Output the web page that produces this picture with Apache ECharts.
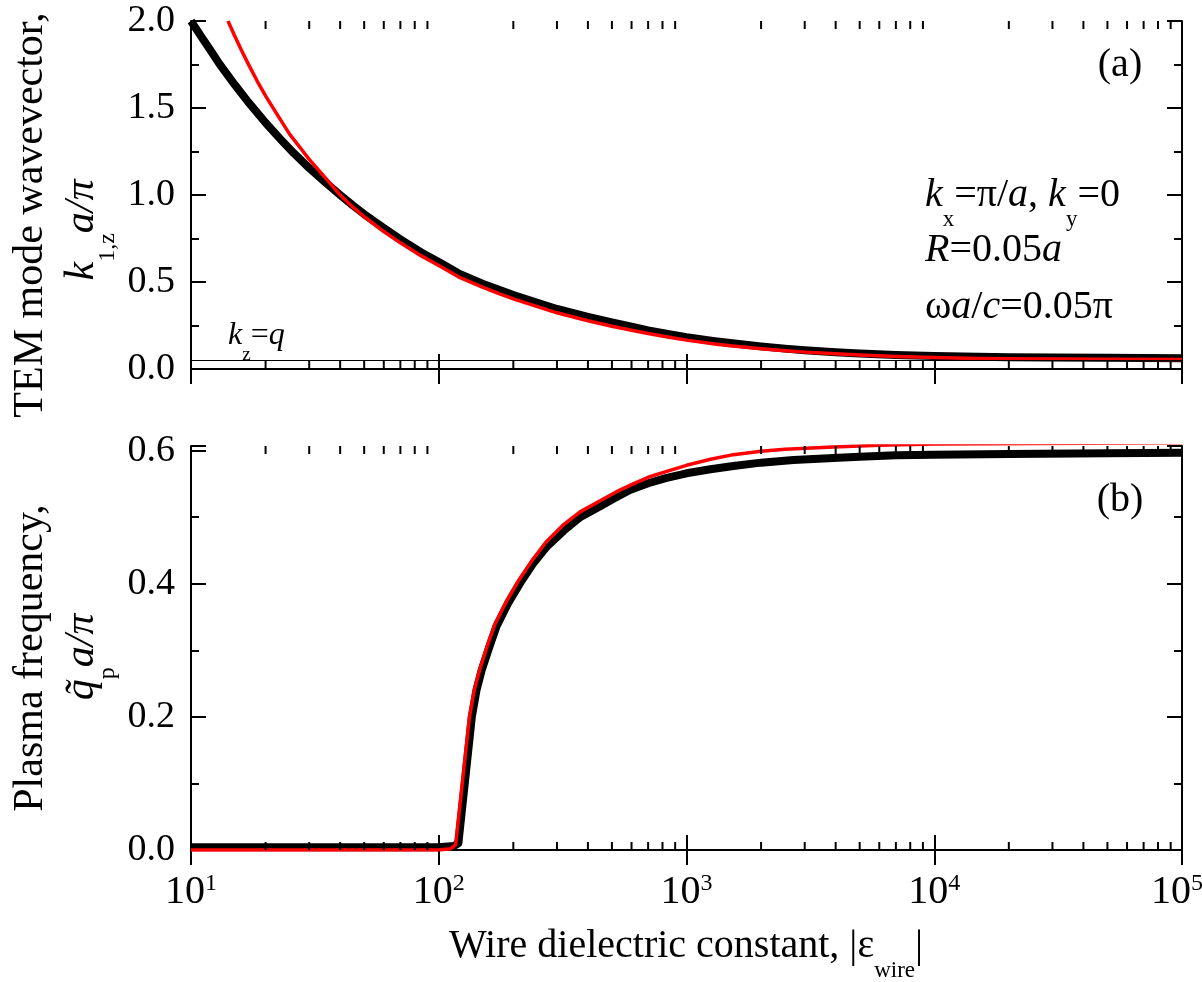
<!DOCTYPE html>
<html>
<head>
<meta charset="utf-8">
<script src="https://cdn.jsdelivr.net/npm/echarts@6/dist/echarts.min.js"></script>
<style>
  html, body { margin: 0; padding: 0; background: #fff; }
  #chart { width: 1202px; height: 982px; }
</style>
</head>
<body>
<div id="chart"></div>
<script>
const FONT = 'Liberation Serif';

// panel (a): TEM mode wavevector k1z*a/pi vs |eps_wire|
const epsA = [10, 11, 12, 13, 15, 17, 20, 23, 26, 30, 35, 40, 45, 50, 60, 70, 85, 100, 120, 150, 175, 200, 250, 300, 400, 500, 600, 700, 850, 1000, 1300, 1500, 2000, 2500, 3000, 4000, 5000, 7000, 10000, 15000, 20000, 30000, 50000, 70000, 100000];
const k1zBlack = [2.00, 1.91, 1.83, 1.755, 1.635, 1.535, 1.415, 1.32, 1.24, 1.155, 1.07, 1.00, 0.94, 0.89, 0.81, 0.745, 0.67, 0.615, 0.55, 0.49, 0.455, 0.425, 0.38, 0.345, 0.30, 0.268, 0.243, 0.222, 0.20, 0.183, 0.16, 0.149, 0.13, 0.117, 0.108, 0.096, 0.089, 0.081, 0.075, 0.070, 0.068, 0.066, 0.064, 0.063, 0.062];
const epsARed = [14.1, 15, 16, 17, 18.5, 20, 22, 25, 28, 30, 35, 40, 45, 50, 60, 70, 85, 100, 120, 150, 175, 200, 250, 300, 400, 500, 600, 700, 850, 1000, 1300, 1500, 2000, 2500, 3000, 4000, 5000, 7000, 10000, 15000, 20000, 30000, 50000, 100000];
const k1zRed = [2.00, 1.915, 1.83, 1.755, 1.655, 1.57, 1.475, 1.35, 1.26, 1.205, 1.095, 1.00, 0.93, 0.875, 0.79, 0.725, 0.65, 0.595, 0.53, 0.47, 0.433, 0.403, 0.358, 0.323, 0.277, 0.246, 0.223, 0.204, 0.183, 0.166, 0.144, 0.134, 0.116, 0.105, 0.097, 0.087, 0.080, 0.072, 0.066, 0.061, 0.059, 0.057, 0.056, 0.055];
const kzq = 0.05;

// panel (b): plasma frequency qp*a/pi vs |eps_wire|
const epsB = [10, 50, 100, 115, 120, 136, 142, 149, 160, 171, 190, 213, 240, 273, 320, 372, 450, 520, 591, 700, 832, 1000, 1250, 1546, 2000, 2700, 3920, 5000, 7000, 9910, 20000, 50000, 100000];
const qpBlack = [0.004, 0.004, 0.004, 0.006, 0.010, 0.20, 0.24, 0.27, 0.305, 0.336, 0.37, 0.401, 0.43, 0.456, 0.48, 0.50, 0.517, 0.53, 0.541, 0.551, 0.559, 0.566, 0.572, 0.577, 0.582, 0.586, 0.589, 0.591, 0.593, 0.594, 0.595, 0.596, 0.597];
const epsBRed = [10, 50, 100, 112, 117, 133, 139, 146, 157, 168, 187, 210, 237, 270, 317, 372, 450, 520, 600, 700, 832, 1000, 1250, 1546, 2000, 2500, 3920, 6000, 10000, 100000];
const qpRed = [0, 0, 0, 0.002, 0.008, 0.20, 0.24, 0.27, 0.307, 0.338, 0.373, 0.405, 0.434, 0.462, 0.488, 0.508, 0.525, 0.538, 0.549, 0.56, 0.569, 0.578, 0.587, 0.594, 0.599, 0.602, 0.6055, 0.608, 0.61, 0.612];

// log-axis minor tick positions
const minorTicks = [20, 30, 40, 50, 60, 70, 80, 90,
  200, 300, 400, 500, 600, 700, 800, 900,
  2000, 3000, 4000, 5000, 6000, 7000, 8000, 9000,
  20000, 30000, 40000, 50000, 60000, 70000, 80000, 90000];

const yRangeA = [0, 2];
const yRangeB = [0, 0.607];

function pairs(xs, ys) { return xs.map((x, i) => [x, ys[i]]); }

const chart = echarts.init(document.getElementById('chart'), null, { renderer: 'canvas' });

const lineBlack = { color: '#000', width: 2 };
const supStyle = { fontFamily: FONT, fontSize: 24, color: '#000', verticalAlign: 'top', lineHeight: 12 };
function xAxisDef(grid, pos, labels) {
  return {
    type: 'log', logBase: 10, gridIndex: grid, position: pos, min: 10, max: 100000,
    axisLine: { show: true, lineStyle: lineBlack },
    axisTick: { show: true, inside: true, length: 15, lineStyle: lineBlack },
    splitLine: { show: false },
    axisLabel: labels ? {
      show: true, margin: 22, color: '#000', fontFamily: FONT, fontSize: 40, lineHeight: 40,
      formatter: v => {
        const e = Math.round(Math.log10(v));
        return '10{' + (e === 5 ? 'supEnd' : 'sup') + '|' + e + '}';
      },
      rich: {
        sup: supStyle,
        supEnd: Object.assign({}, supStyle, { padding: [0, 10, 0, 0] })
      }
    } : { show: false }
  };
}
function yAxisDef(grid, pos, range, interval, labels) {
  return {
    type: 'value', gridIndex: grid, position: pos, min: range[0], max: range[1], interval: interval,
    axisLine: { show: true, lineStyle: lineBlack },
    axisTick: { show: true, inside: true, length: 15, lineStyle: lineBlack },
    minorTick: { show: true, splitNumber: 2, length: 8, lineStyle: lineBlack },
    splitLine: { show: false },
    axisLabel: labels ? {
      show: true, margin: 16, color: '#000', fontFamily: FONT, fontSize: 38,
      showMaxLabel: range[1] === 2,
      formatter: v => v.toFixed(1)
    } : { show: false }
  };
}
function minorTickSeries(xi, yi, range) {
  return {
    type: 'custom', xAxisIndex: xi, yAxisIndex: yi, silent: true, z: 5,
    data: minorTicks.map(v => [v, range[0]]),
    renderItem: function (params, api) {
      const v = api.value(0);
      const b = api.coord([v, range[0]]);
      const t = api.coord([v, range[1]]);
      return {
        type: 'group', children: [
          { type: 'line', shape: { x1: b[0], y1: b[1], x2: b[0], y2: b[1] - 8 }, style: { stroke: '#000', lineWidth: 2 } },
          { type: 'line', shape: { x1: t[0], y1: t[1], x2: t[0], y2: t[1] + 8 }, style: { stroke: '#000', lineWidth: 2 } }
        ]
      };
    }
  };
}

// text with italic {i|..} and low subscripts {sub|..}
function txt(x, y, text, size, opts) {
  opts = opts || {};
  const L = Math.round(size * 1.8);
  const subSize = Math.round(size * 0.58);
  return {
    type: 'text', x: x, y: y, rotation: opts.rot || 0, z: 100,
    style: {
      text: text, fontFamily: FONT, fontSize: size, fill: '#000',
      align: opts.align || 'left', verticalAlign: 'middle', lineHeight: L,
      rich: {
        i: { fontFamily: FONT, fontStyle: 'italic', fontSize: size, fill: '#000', lineHeight: L },
        sub: { fontFamily: FONT, fontSize: subSize, fill: '#000', verticalAlign: 'bottom', lineHeight: Math.round(subSize * 1.15) }
      }
    }
  };
}

chart.setOption({
  animation: false,
  backgroundColor: '#fff',
  grid: [
    { left: 191, top: 21, width: 991, height: 348, outerBoundsMode: 'none' },
    { left: 191, top: 446, width: 991, height: 404, outerBoundsMode: 'none' }
  ],
  xAxis: [
    xAxisDef(0, 'bottom', false),
    xAxisDef(0, 'top', false),
    xAxisDef(1, 'bottom', true),
    xAxisDef(1, 'top', false)
  ],
  yAxis: [
    yAxisDef(0, 'left', yRangeA, 0.5, true),
    yAxisDef(0, 'right', yRangeA, 0.5, false),
    yAxisDef(1, 'left', yRangeB, 0.2, true),
    yAxisDef(1, 'right', yRangeB, 0.2, false)
  ],
  graphic: [
    txt(31, 215, 'TEM mode wavevector,', 42, { rot: Math.PI / 2, align: 'center' }),
    txt(82, 230, '{i|k}{sub|1,z}{i|a/π}', 42, { rot: Math.PI / 2, align: 'center' }),
    txt(31, 658, 'Plasma frequency,', 42, { rot: Math.PI / 2, align: 'center' }),
    txt(82, 657, '{i|q\u0303}{sub|p}{i|a/π}', 42, { rot: Math.PI / 2, align: 'center' }),
    txt(686, 946, 'Wire dielectric constant, |ε{sub|wire}|', 40, { align: 'center' }),
    txt(1120, 65, '(a)', 40, { align: 'center' }),
    txt(1120, 500, '(b)', 40, { align: 'center' }),
    txt(925, 195, '{i|k}{sub|x}=π/{i|a}, {i|k}{sub|y}=0', 40),
    txt(925, 250, '{i|R}=0.05{i|a}', 40),
    txt(925, 307, 'ω{i|a}/{i|c}=0.05π', 40),
    txt(228, 336, '{i|k}{sub|z}={i|q}', 32)
  ],
  series: [
    {
      type: 'line', xAxisIndex: 0, yAxisIndex: 0, data: pairs(epsA, k1zBlack),
      showSymbol: false, lineStyle: { color: '#000', width: 8, join: 'round' }, z: 3,
      markLine: {
        silent: true, symbol: 'none', label: { show: false },
        lineStyle: { color: '#000', width: 1, type: 'solid' },
        data: [{ yAxis: kzq }]
      }
    },
    {
      type: 'line', xAxisIndex: 0, yAxisIndex: 0, data: pairs(epsARed, k1zRed),
      showSymbol: false, lineStyle: { color: '#ff0000', width: 3.5, join: 'round' }, z: 4
    },
    {
      type: 'line', xAxisIndex: 2, yAxisIndex: 2, data: pairs(epsB, qpBlack),
      showSymbol: false, lineStyle: { color: '#000', width: 8, join: 'round' }, z: 3
    },
    {
      type: 'line', xAxisIndex: 2, yAxisIndex: 2, data: pairs(epsBRed, qpRed),
      showSymbol: false, lineStyle: { color: '#ff0000', width: 3.5, join: 'round' }, z: 4
    },
    minorTickSeries(0, 0, yRangeA),
    minorTickSeries(2, 2, yRangeB)
  ]
});
</script>
</body>
</html>
